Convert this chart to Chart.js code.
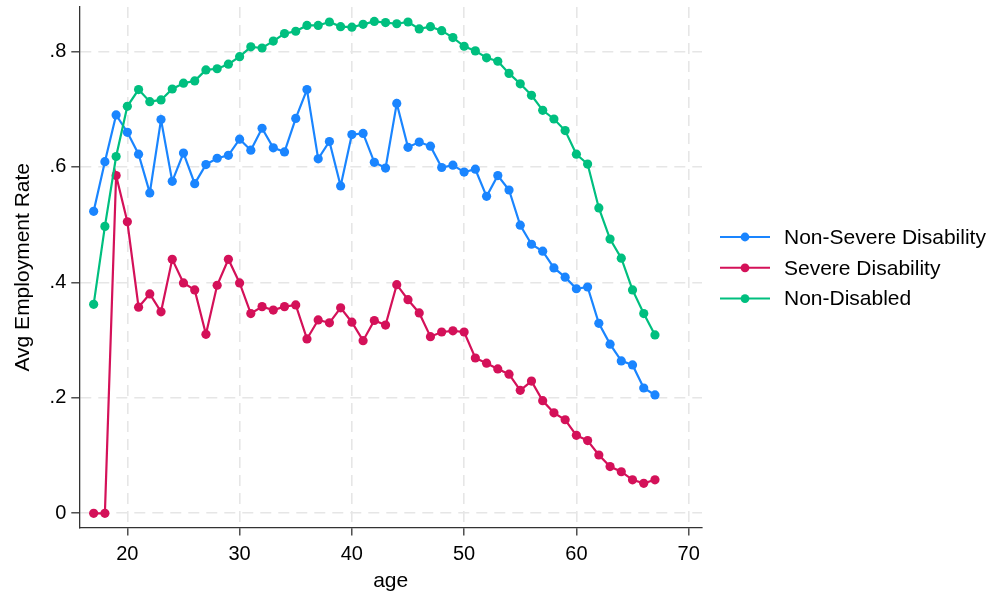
<!DOCTYPE html>
<html>
<head>
<meta charset="utf-8">
<script src="https://cdn.jsdelivr.net/npm/chart.js@4/dist/chart.umd.min.js"></script>
<style>
  html, body { margin: 0; padding: 0; background: #fff; }
  #wrap { width: 997px; height: 598px; position: relative; }
</style>
</head>
<body>
<div id="wrap"><canvas id="grafico"></canvas></div>
<script>
// edades (eje x)
const edades = [17, 18, 19, 20, 21, 22, 23, 24, 25, 26, 27, 28, 29, 30, 31, 32, 33,
  34, 35, 36, 37, 38, 39, 40, 41, 42, 43, 44, 45, 46, 47, 48, 49, 50,
  51, 52, 53, 54, 55, 56, 57, 58, 59, 60, 61, 62, 63, 64, 65, 66, 67];

const noSevera = [0.523, 0.609, 0.690, 0.660, 0.622, 0.555, 0.682, 0.575, 0.624, 0.571,
  0.604, 0.615, 0.620, 0.648, 0.629, 0.667, 0.633, 0.626, 0.684, 0.734,
  0.614, 0.644, 0.567, 0.656, 0.658, 0.608, 0.598, 0.710, 0.634, 0.643,
  0.636, 0.599, 0.603, 0.591, 0.596, 0.549, 0.585, 0.560, 0.499, 0.466,
  0.454, 0.425, 0.409, 0.389, 0.392, 0.329, 0.293, 0.264, 0.257, 0.217, 0.205];

const severa = [0.000, 0.000, 0.585, 0.505, 0.357, 0.380, 0.349, 0.440, 0.399, 0.387,
  0.310, 0.395, 0.440, 0.399, 0.346, 0.358, 0.352, 0.358, 0.361, 0.302,
  0.335, 0.330, 0.356, 0.331, 0.299, 0.334, 0.326, 0.396, 0.370, 0.347,
  0.306, 0.314, 0.316, 0.314, 0.269, 0.260, 0.250, 0.241, 0.213, 0.229,
  0.195, 0.174, 0.162, 0.135, 0.126, 0.101, 0.081, 0.072, 0.058, 0.052, 0.058];

const sinDiscapacidad = [0.362, 0.497, 0.618, 0.705, 0.734, 0.713, 0.716, 0.735, 0.745, 0.749,
  0.768, 0.770, 0.778, 0.791, 0.808, 0.806, 0.818, 0.831, 0.835, 0.845,
  0.845, 0.851, 0.843, 0.842, 0.847, 0.852, 0.850, 0.848, 0.851, 0.839,
  0.843, 0.836, 0.824, 0.809, 0.801, 0.789, 0.783, 0.762, 0.744, 0.724,
  0.698, 0.683, 0.663, 0.622, 0.605, 0.529, 0.475, 0.442, 0.387, 0.346, 0.309];

const series = ['Non-Severe Disability', 'Severe Disability', 'Non-Disabled'];
const colores = ['#1a85ff', '#d41159', '#00bf7f'];

const ticksX = [20, 30, 40, 50, 60, 70];
const ticksY = [0, 0.2, 0.4, 0.6, 0.8];
const etiquetasY = ['0', '.2', '.4', '.6', '.8'];

const fuente = "'Liberation Sans', Arial, sans-serif";

function puntos(valores) {
  return edades.map((e, i) => ({ x: e, y: valores[i] }));
}

// leyenda a la derecha: linea con punto en el medio
const leyendaLinea = {
  id: 'leyendaLinea',
  afterDraw(chart) {
    const ctx = chart.ctx;
    const x0 = 720, x1 = 770, xt = 784;
    let y = 237;
    ctx.save();
    chart.data.datasets.forEach((ds) => {
      ctx.strokeStyle = ds.borderColor;
      ctx.lineWidth = 2;
      ctx.beginPath();
      ctx.moveTo(x0, y);
      ctx.lineTo(x1, y);
      ctx.stroke();
      ctx.fillStyle = ds.borderColor;
      ctx.beginPath();
      ctx.arc((x0 + x1) / 2, y, 4.4, 0, Math.PI * 2);
      ctx.fill();
      ctx.fillStyle = '#000';
      ctx.font = '21px ' + fuente;
      ctx.textBaseline = 'middle';
      ctx.fillText(ds.label, xt, y + 1);
      y += 30.8;
    });
    ctx.restore();
  }
};

const datos = [noSevera, severa, sinDiscapacidad];

new Chart(document.getElementById('grafico'), {
  type: 'line',
  data: {
    datasets: series.map((nombre, i) => ({
      label: nombre,
      data: puntos(datos[i]),
      borderColor: colores[i],
      backgroundColor: colores[i],
      pointBackgroundColor: colores[i],
      pointBorderWidth: 0,
      pointRadius: 4.6,
      borderWidth: 2.2,
      tension: 0,
      order: 3 - i,
    })),
  },
  options: {
    responsive: true,
    maintainAspectRatio: false,
    animation: false,
    layout: { padding: { top: 7, right: 295, left: 0, bottom: 0 } },
    plugins: {
      legend: { display: false },
      tooltip: { enabled: false },
    },
    scales: {
      x: {
        type: 'linear',
        min: 15.72,
        max: 71.19,
        afterBuildTicks: (s) => { s.ticks = ticksX.map((v) => ({ value: v })); },
        afterFit: (s) => { s.height = 70.5; s.paddingLeft = 0; s.paddingRight = 0; },
        ticks: {
          color: '#000',
          font: { family: fuente, size: 20 },
          padding: 7,
          maxRotation: 0,
          callback: (v) => String(v),
        },
        grid: {
          color: '#e6e6e6',
          lineWidth: 1.6,
          tickColor: '#333',
          tickLength: 8,
          tickWidth: 1.3,
        },
        border: { color: '#333', width: 1.3, dash: [11, 7] },
        title: {
          display: true,
          text: 'age',
          color: '#000',
          font: { family: fuente, size: 21 },
          padding: { top: 0, bottom: 4 },
        },
      },
      y: {
        min: -0.0246,
        max: 0.877,
        afterBuildTicks: (s) => { s.ticks = ticksY.map((v) => ({ value: v })); },
        afterFit: (s) => { s.width = 79.3; s.paddingTop = 0; s.paddingBottom = 0; },
        ticks: {
          color: '#000',
          font: { family: fuente, size: 20 },
          padding: 5,
          callback: (v) => {
            const k = ticksY.findIndex((t) => Math.abs(t - v) < 1e-9);
            return k >= 0 ? etiquetasY[k] : '';
          },
        },
        grid: {
          color: '#e6e6e6',
          lineWidth: 1.6,
          tickColor: '#333',
          tickLength: 8,
          tickWidth: 1.3,
        },
        border: { color: '#333', width: 1.3, dash: [11, 7] },
        title: {
          display: true,
          text: 'Avg Employment Rate',
          color: '#000',
          font: { family: fuente, size: 21 },
          padding: { top: 11, bottom: 0 },
        },
      },
    },
  },
  plugins: [leyendaLinea],
});
</script>
</body>
</html>
